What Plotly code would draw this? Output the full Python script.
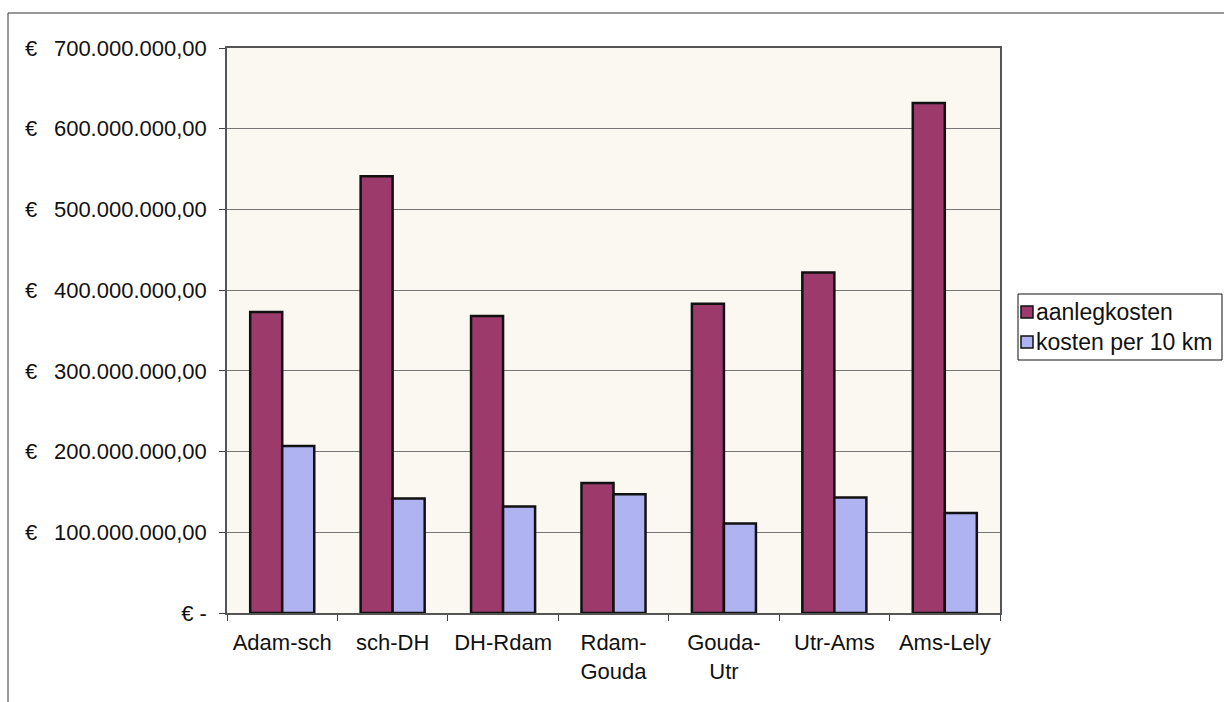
import plotly.graph_objects as go

# Route segments and costs (euro)
trajecten = ["Adam-sch", "sch-DH", "DH-Rdam", "Rdam-<br>Gouda", "Gouda-<br>Utr", "Utr-Ams", "Ams-Lely"]
aanlegkosten = [373e6, 541e6, 368e6, 161e6, 383e6, 422e6, 632e6]
kosten_per_10km = [207e6, 142e6, 132e6, 147e6, 111e6, 143e6, 124e6]

tick_vals = [0, 100e6, 200e6, 300e6, 400e6, 500e6, 600e6, 700e6]
tick_text = ["€ -"] + ["€\u00a0\u00a0\u2009" + f"{v/1e6:.0f}.000.000,00" for v in tick_vals[1:]]

series_names = ["aanlegkosten", "kosten per 10 km"]
series_colors = ["#9b3a6b", "#b0b3f2"]

W, H = 1224, 702
L, R, T, B = 227, 224, 48, 89


def px(x):
    return (x - L) / (W - L - R)


def py(y):
    return (H - B - y) / (H - B - T)


FONT = "Liberation Sans, Arial, sans-serif"
font = dict(family=FONT, size=22, color="#111111")

fig = go.Figure()
for name, vals, col in zip(series_names, [aanlegkosten, kosten_per_10km], series_colors):
    fig.add_trace(go.Bar(
        name=name, x=trajecten, y=vals,
        marker=dict(color=col, line=dict(color="#111111", width=2.5)),
    ))

# outer chart frame plus a hand-drawn legend box to the right of the plot
shapes = [
    dict(type="line", xref="paper", yref="paper", x0=px(8), x1=px(W + 5), y0=py(13), y1=py(13),
         line=dict(color="#333333", width=1)),
    dict(type="line", xref="paper", yref="paper", x0=px(8), x1=px(8), y0=py(13), y1=py(H + 5),
         line=dict(color="#333333", width=1)),
    dict(type="rect", xref="paper", yref="paper", x0=px(1018), x1=px(1222), y0=py(294), y1=py(360),
         line=dict(color="#111111", width=1), fillcolor="white"),
]
annotations = []
for i, (name, col) in enumerate(zip(series_names, series_colors)):
    cy = 312 + 30 * i
    shapes.append(dict(type="rect", xref="paper", yref="paper",
                       x0=px(1021), x1=px(1033), y0=py(cy - 6), y1=py(cy + 6),
                       line=dict(color="#111111", width=1.5), fillcolor=col))
    annotations.append(dict(xref="paper", yref="paper", x=px(1034), y=py(cy),
                            xanchor="left", yanchor="middle", showarrow=False,
                            text=name, font=dict(family=FONT, size=23, color="#111111")))

fig.update_layout(
    width=W, height=H,
    margin=dict(l=L, r=R, t=T, b=B),
    paper_bgcolor="white",
    plot_bgcolor="#faf8f0",
    barmode="group",
    bargap=0.42,
    bargroupgap=0,
    font=font,
    showlegend=False,
    xaxis=dict(
        tickson="boundaries", ticks="outside", ticklen=6, tickcolor="#444444",
        showline=True, linecolor="#555555", linewidth=1.5, mirror=True,
        tickfont=font, ticklabelstandoff=9,
    ),
    yaxis=dict(
        range=[0, 700e6], tickvals=tick_vals, ticktext=tick_text,
        ticks="outside", ticklen=6, tickcolor="#444444",
        showline=True, linecolor="#555555", linewidth=1.5, mirror=True,
        showgrid=True, gridcolor="#777777", gridwidth=1,
        zeroline=False, tickfont=font, ticklabelstandoff=8,
    ),
    shapes=shapes,
    annotations=annotations,
)

fig.write_html("out.html")
